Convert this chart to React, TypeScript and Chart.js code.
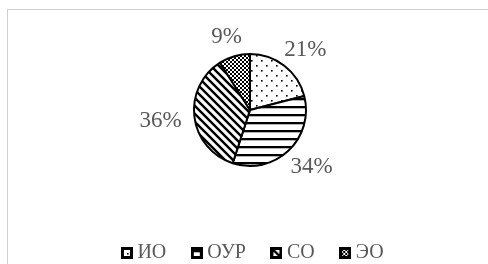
import { useEffect, useRef } from "react";
import { Chart, registerables } from "chart.js";

Chart.register(...registerables);

const categories = ["ИО", "ОУР", "СО", "ЭО"];
const shares = [21, 34, 36, 9];
const shareLabels = ["21%", "34%", "36%", "9%"];
const patternKinds = ["dots", "hlines", "diag", "checker"];

const FONT = '"Liberation Serif", "Times New Roman", serif';
const TEXT_COLOR = "#595959";

function makePattern(ctx: CanvasRenderingContext2D, kind: string): CanvasPattern | string {
  const c = document.createElement("canvas");
  let s = 8;
  if (kind === "dots") s = 10;
  if (kind === "hlines") s = 8;
  if (kind === "diag") s = 8;
  if (kind === "checker") s = 4;
  c.width = s;
  c.height = s;
  const g = c.getContext("2d");
  if (!g) return "#ffffff";
  g.fillStyle = "#ffffff";
  g.fillRect(0, 0, s, s);
  g.fillStyle = "#000000";
  g.strokeStyle = "#000000";
  if (kind === "dots") {
    g.fillRect(1, 1, 1.6, 1.6);
    g.fillRect(6, 6, 1.6, 1.6);
  } else if (kind === "hlines") {
    g.fillRect(0, 3, s, 2.3);
  } else if (kind === "diag") {
    g.lineWidth = 2.4;
    g.beginPath();
    g.moveTo(-2, -2);
    g.lineTo(s + 2, s + 2);
    g.moveTo(-2, s - 2);
    g.lineTo(2, s + 2);
    g.moveTo(s - 2, -2);
    g.lineTo(s + 2, 2);
    g.stroke();
  } else if (kind === "checker") {
    g.fillRect(0, 0, 2, 2);
    g.fillRect(2, 2, 2, 2);
  }
  return ctx.createPattern(c, "repeat") || "#ffffff";
}

function makeLegendIcon(kind: string): HTMLCanvasElement {
  const c = document.createElement("canvas");
  const s = 12;
  c.width = s;
  c.height = s;
  const g = c.getContext("2d");
  if (!g) return c;
  g.fillStyle = makePattern(g, kind) as any;
  g.fillRect(0, 0, s, s);
  g.strokeStyle = "#000000";
  g.lineWidth = 3;
  g.strokeRect(1.5, 1.5, s - 3, s - 3);
  return c;
}

const pieLabels = {
  id: "pieLabels",
  afterDatasetsDraw(chart: any) {
    const ctx = chart.ctx as CanvasRenderingContext2D;
    const meta = chart.getDatasetMeta(0);
    ctx.save();
    ctx.font = `23px ${FONT}`;
    ctx.fillStyle = TEXT_COLOR;
    ctx.textAlign = "center";
    ctx.textBaseline = "middle";
    const gap = 13;
    const h = 16;
    meta.data.forEach((arc: any, i: number) => {
      const p = arc.getProps(["x", "y", "startAngle", "endAngle", "outerRadius"], true);
      const mid = (p.startAngle + p.endAngle) / 2;
      const cos = Math.cos(mid);
      const sin = Math.sin(mid);
      const text = shareLabels[i];
      const w = ctx.measureText(text).width;
      const r = p.outerRadius + gap;
      const cx = p.x + cos * r + cos * (w / 2);
      const cy = p.y + sin * r + sin * (h / 2);
      ctx.fillText(text, cx, cy + 1);
    });
    ctx.restore();
  },
};

const legendNudge = {
  id: "legendNudge",
  afterLayout(chart: any) {
    if (chart.legend) {
      chart.legend.left += 5;
      chart.legend.right += 5;
    }
  },
};

export default function App() {
  const ref = useRef<HTMLCanvasElement | null>(null);

  useEffect(() => {
    const canvas = ref.current;
    if (!canvas) return;
    const ctx = canvas.getContext("2d");
    if (!ctx) return;
    const fills = patternKinds.map((k) => makePattern(ctx, k));
    const icons = patternKinds.map((k) => makeLegendIcon(k));
    const chart = new Chart(canvas, {
      type: "pie",
      data: {
        labels: categories,
        datasets: [
          {
            data: shares,
            backgroundColor: fills as any,
            borderColor: "#000000",
            borderWidth: 2,
            radius: 56,
          } as any,
        ],
      },
      options: {
        responsive: false,
        animation: false,
        devicePixelRatio: 1,
        layout: { padding: { top: 8, left: 12, right: 0, bottom: 0 } },
        plugins: {
          tooltip: { enabled: false },
          legend: {
            position: "bottom",
            labels: {
              usePointStyle: true,
              pointStyleWidth: 1,
              boxWidth: 1,
              boxHeight: 12,
              padding: 30,
              color: TEXT_COLOR,
              font: { family: FONT, size: 20 },
              generateLabels(ch: any) {
                const items = Chart.overrides.pie.plugins.legend.labels.generateLabels(ch);
                return items.map((it: any, i: number) => ({
                  ...it,
                  pointStyle: icons[i],
                  lineWidth: 0,
                  strokeStyle: "#000000",
                }));
              },
            },
          },
        },
      },
      plugins: [pieLabels, legendNudge],
    });
    return () => chart.destroy();
  }, []);

  return (
    <div
      style={{
        position: "fixed",
        left: 0,
        top: 0,
        width: 488,
        height: 264,
        overflow: "hidden",
        background: "#ffffff",
      }}
    >
      <div
        style={{
          position: "absolute",
          left: 7,
          top: 9,
          width: 600,
          height: 400,
          borderTop: "1px solid #cfcfcf",
          borderLeft: "1px solid #cfcfcf",
        }}
      />
      <canvas
        ref={ref}
        width={488}
        height={274}
        style={{ position: "absolute", left: 0, top: -1, width: 488, height: 274 }}
      />
    </div>
  );
}
